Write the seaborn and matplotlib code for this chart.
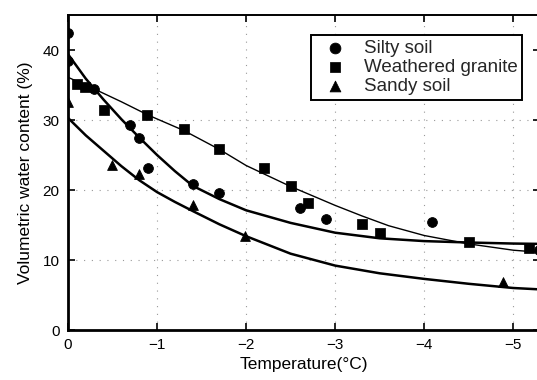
import matplotlib
matplotlib.use("Agg")
import matplotlib.pyplot as plt
import seaborn as sns
import pandas as pd

# ---- data ----
silty_x = [0, 0, -0.29, -0.70, -0.80, -0.90, -1.40, -1.69, -2.60, -2.90, -4.09, -5.29]
silty_y = [42.4, 38.4, 34.4, 29.3, 27.5, 23.2, 20.8, 19.6, 17.5, 15.8, 15.4, 11.5]

granite_x = [-0.10, -0.19, -0.40, -0.89, -1.30, -1.69, -2.20, -2.50, -2.70, -3.30, -3.50, -4.50, -5.18]
granite_y = [35.2, 34.7, 31.4, 30.7, 28.7, 25.8, 23.2, 20.6, 18.2, 15.1, 13.8, 12.6, 11.7]

sandy_x = [0, -0.49, -0.80, -1.40, -1.99, -4.89]
sandy_y = [32.6, 23.6, 22.3, 17.9, 13.5, 6.9]

# fitted curves
silty_fit_x = [0, -0.2, -0.4, -0.6, -0.8, -1.0, -1.2, -1.4, -1.7, -2.0, -2.5, -3.0, -3.5, -4.0, -4.5, -5.0, -5.3]
silty_fit_y = [39.4, 35.9, 32.9, 30.1, 27.5, 25.0, 22.7, 20.6, 18.7, 17.1, 15.3, 13.9, 13.1, 12.7, 12.5, 12.35, 12.3]

granite_fit_x = [0, -0.3, -0.6, -0.9, -1.3, -1.7, -2.0, -2.5, -3.0, -3.3, -3.6, -4.0, -4.5, -5.0, -5.3]
granite_fit_y = [36.1, 34.4, 32.6, 30.7, 28.5, 25.8, 23.5, 20.5, 17.8, 16.3, 14.9, 13.5, 12.3, 11.4, 11.1]

sandy_fit_x = [0, -0.2, -0.4, -0.6, -0.8, -1.0, -1.2, -1.4, -1.7, -2.0, -2.5, -3.0, -3.5, -4.0, -4.5, -5.0, -5.3]
sandy_fit_y = [30.3, 27.8, 25.6, 23.4, 21.4, 19.7, 18.3, 17.0, 15.1, 13.4, 10.9, 9.2, 8.1, 7.3, 6.6, 6.0, 5.8]

x_ticks = [0, -1, -2, -3, -4, -5]
x_tick_labels = ["0", "\u22121", "\u22122", "\u22123", "\u22124", "\u22125"]
y_ticks = [0, 10, 20, 30, 40]

sns.set_theme(style="ticks")
plt.rcParams['font.family'] = ['Liberation Sans', 'DejaVu Sans']

fig = plt.figure(figsize=(5.37, 3.80), dpi=100)
ax = fig.add_axes([68/537, 50/380, 472/537, 315/380])

ax.set_xlim(0, -5.30)
ax.set_ylim(0, 45)

# sparse dotted grid
for xv in x_ticks[1:]:
    ax.axvline(xv, color="0.6", lw=0.8, ls=(0, (1, 6)), zorder=0)
for yv in y_ticks[1:4]:
    ax.axhline(yv, color="0.6", lw=0.8, ls=(0, (1, 6)), zorder=0)

# curves
sns.lineplot(x=granite_fit_x, y=granite_fit_y, ax=ax, color="black", lw=1.0, sort=False, estimator=None)
sns.lineplot(x=silty_fit_x, y=silty_fit_y, ax=ax, color="black", lw=1.8, sort=False, estimator=None)
sns.lineplot(x=sandy_fit_x, y=sandy_fit_y, ax=ax, color="black", lw=1.8, sort=False, estimator=None)

# points
sns.scatterplot(x=silty_x, y=silty_y, ax=ax, marker="o", s=50, color="black", edgecolor="black", label="Silty soil", zorder=5)
sns.scatterplot(x=granite_x, y=granite_y, ax=ax, marker="s", s=42, color="black", edgecolor="black", label="Weathered granite", zorder=5)
sns.scatterplot(x=sandy_x, y=sandy_y, ax=ax, marker="^", s=50, color="black", edgecolor="black", label="Sandy soil", zorder=5)

ax.set_xticks(x_ticks)
ax.set_yticks(y_ticks)
ax.set_xticklabels(x_tick_labels)
ax.tick_params(axis="both", direction="in", length=5, width=1.2, labelsize=11,
               colors="black", top=True, right=True, pad=6)

for side in ["left", "bottom"]:
    ax.spines[side].set_linewidth(2.0)
for side in ["top", "right"]:
    ax.spines[side].set_linewidth(1.4)
for sp in ax.spines.values():
    sp.set_color("black")

ax.set_xlabel("Temperature(\u00b0C)", fontsize=12.5, labelpad=3, color="black")
ax.set_ylabel("Volumetric water content (%)", fontsize=12.5, labelpad=7, color="black")

leg = ax.legend(loc="upper right", bbox_to_anchor=(522/537, 1 - 35/380),
                bbox_transform=fig.transFigure, frameon=True, fancybox=False,
                fontsize=13.5, handletextpad=0.55, borderpad=0.25, labelspacing=0.1,
                handlelength=2.0, borderaxespad=0, markerscale=1.1)
leg.get_frame().set_edgecolor("black")
leg.get_frame().set_linewidth(1.4)
leg.get_frame().set_alpha(1)

fig.savefig("out.png", dpi=100)
